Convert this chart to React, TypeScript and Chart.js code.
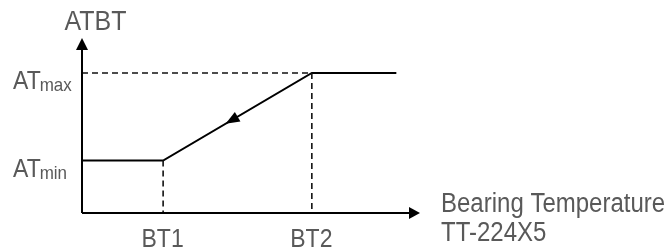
import React, { useEffect, useRef } from "react";
import { Chart, registerables } from "chart.js";

Chart.register(...registerables);

// ---- data ----
const X_AXIS_MAX = 100;
const Y_AXIS_MAX = 100;
const BT_LABELS = ["BT1", "BT2"];
const BT_VALUES = [24, 68];
const AT_MAIN = ["AT", "AT"];
const AT_SUBS = ["min", "max"];
const AT_VALUES = [30, 80];
const CURVE_X = [0, 24, 68, 93];
const CURVE_Y = [30, 30, 80, 80];
const SLOPE_ARROW_FRACTION = 0.58; // from BT2 corner toward BT1 corner
const Y_AXIS_TITLE = "ATBT";
const X_AXIS_TITLE = ["Bearing Temperature", "TT-224X5"];

const FONT = "'Liberation Sans', Arial, sans-serif";
const TEXT_COLOR = "#595959";
const STRETCH = 1.13;

function arrowHead(ctx: CanvasRenderingContext2D, tipX: number, tipY: number, fromX: number, fromY: number, len: number, half: number) {
  const ang = Math.atan2(tipY - fromY, tipX - fromX);
  const bx = tipX - Math.cos(ang) * len;
  const by = tipY - Math.sin(ang) * len;
  const nx = -Math.sin(ang) * half;
  const ny = Math.cos(ang) * half;
  ctx.beginPath();
  ctx.moveTo(tipX, tipY);
  ctx.lineTo(bx + nx, by + ny);
  ctx.lineTo(bx - nx, by - ny);
  ctx.closePath();
  ctx.fill();
}

function text(ctx: CanvasRenderingContext2D, s: string, x: number, y: number) {
  ctx.save();
  ctx.translate(x, y);
  ctx.scale(1, STRETCH);
  ctx.fillText(s, 0, 0);
  ctx.restore();
}

const diagramPlugin = {
  id: "diagram",
  afterDatasetsDraw(chart: any) {
    const ctx: CanvasRenderingContext2D = chart.ctx;
    const xs = chart.scales.x;
    const ys = chart.scales.y;
    const x0 = xs.getPixelForValue(0);
    const y0 = ys.getPixelForValue(0);
    const xEnd = xs.getPixelForValue(X_AXIS_MAX);
    const yEnd = ys.getPixelForValue(Y_AXIS_MAX);
    ctx.save();
    ctx.fillStyle = "#000";
    // axis arrowheads
    arrowHead(ctx, x0, yEnd, x0, y0, 12, 6);
    arrowHead(ctx, xEnd, y0, x0, y0, 11, 6);
    // slope arrowhead
    const ax2 = xs.getPixelForValue(BT_VALUES[1]);
    const ay2 = ys.getPixelForValue(AT_VALUES[1]);
    const ax1 = xs.getPixelForValue(BT_VALUES[0]);
    const ay1 = ys.getPixelForValue(AT_VALUES[0]);
    const tx = ax2 + (ax1 - ax2) * SLOPE_ARROW_FRACTION;
    const ty = ay2 + (ay1 - ay2) * SLOPE_ARROW_FRACTION;
    arrowHead(ctx, tx, ty, ax2, ay2, 14, 5.5);

    // texts
    ctx.fillStyle = TEXT_COLOR;
    ctx.textBaseline = "alphabetic";
    ctx.font = `25px ${FONT}`;
    ctx.textAlign = "center";
    text(ctx, Y_AXIS_TITLE, x0 + 13.5, yEnd - 8);

    BT_LABELS.forEach((lab, i) => {
      ctx.font = `23px ${FONT}`;
      ctx.textAlign = "center";
      text(ctx, lab, xs.getPixelForValue(BT_VALUES[i]) - 0.5, y0 + 34);
    });

    AT_MAIN.forEach((lab, i) => {
      const py = ys.getPixelForValue(AT_VALUES[i]);
      const left = x0 - 69;
      ctx.textAlign = "left";
      ctx.font = `23px ${FONT}`;
      text(ctx, lab, left, py + 16);
      const w = ctx.measureText(lab).width;
      ctx.font = `17px ${FONT}`;
      text(ctx, AT_SUBS[i], left + w - 1, py + 18);
    });

    ctx.font = `24px ${FONT}`;
    ctx.textAlign = "left";
    text(ctx, X_AXIS_TITLE[0], xEnd + 21, y0 - 1);
    text(ctx, X_AXIS_TITLE[1], xEnd + 21, y0 + 28);
    ctx.restore();
  },
};

export default function App() {
  const ref = useRef<HTMLCanvasElement | null>(null);
  useEffect(() => {
    if (!ref.current) return;
    const pts = (xsArr: number[], ysArr: number[]) => xsArr.map((x, i) => ({ x, y: ysArr[i] }));
    const dash = { borderColor: "#111", borderWidth: 1.6, borderDash: [6, 4], pointRadius: 0, showLine: true, clip: false as any, fill: false };
    const chart = new Chart(ref.current, {
      type: "scatter",
      data: {
        datasets: [
          // y axis line
          { data: pts([0, 0], [0, Y_AXIS_MAX - 6]), borderColor: "#000", borderWidth: 2, pointRadius: 0, showLine: true, clip: false as any },
          // x axis line
          { data: pts([0, X_AXIS_MAX - 2], [0, 0]), borderColor: "#000", borderWidth: 2, pointRadius: 0, showLine: true, clip: false as any },
          // dashed guides
          { ...dash, data: pts([0, BT_VALUES[1]], [AT_VALUES[1], AT_VALUES[1]]) },
          { ...dash, data: pts([BT_VALUES[1], BT_VALUES[1]], [AT_VALUES[1], 0]) },
          { ...dash, data: pts([BT_VALUES[0], BT_VALUES[0]], [AT_VALUES[0], 0]) },
          // curve
          { data: pts(CURVE_X, CURVE_Y), borderColor: "#000", borderWidth: 2, pointRadius: 0, showLine: true, clip: false as any, tension: 0 },
        ],
      },
      options: {
        animation: false,
        responsive: true,
        maintainAspectRatio: false,
        layout: { padding: { left: 82, right: 246, top: 38, bottom: 37 } },
        plugins: { legend: { display: false }, tooltip: { enabled: false } },
        scales: {
          x: { type: "linear", min: 0, max: X_AXIS_MAX, display: false },
          y: { type: "linear", min: 0, max: Y_AXIS_MAX, display: false },
        },
      },
      plugins: [diagramPlugin],
    });
    return () => chart.destroy();
  }, []);
  return (
    <div style={{ position: "absolute", left: 0, top: 0, width: 666, height: 250, background: "#fff" }}>
      <canvas ref={ref} />
    </div>
  );
}
